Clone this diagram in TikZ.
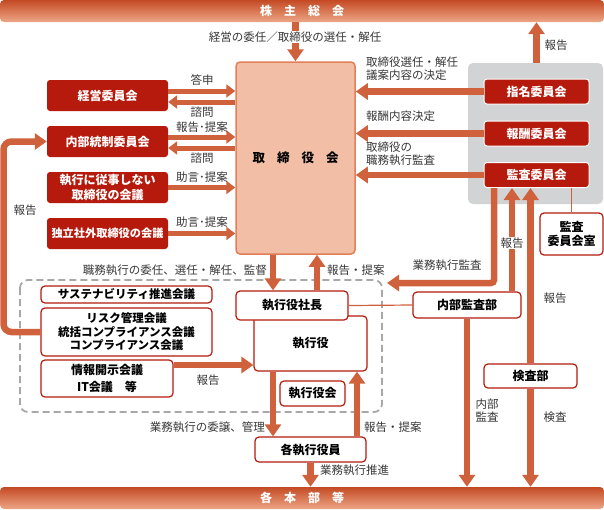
\documentclass[tikz,border=0pt]{standalone}
\usepackage{fontspec}
\setmainfont{Noto Sans CJK JP}
\usetikzlibrary{arrows.meta}
\definecolor{arrowc}{RGB}{207,98,60}
\definecolor{boxred}{RGB}{181,26,12}
\definecolor{boardfill}{RGB}{242,191,166}
\definecolor{boardline}{RGB}{226,126,88}
\definecolor{panelgrey}{RGB}{210,211,213}
\definecolor{dashgrey}{RGB}{168,168,168}
\definecolor{labelc}{RGB}{55,55,55}
\definecolor{bartop}{RGB}{196,74,36}
\definecolor{barbottom}{RGB}{236,166,134}
\tikzset{
  bar/.style={rounded corners=4pt, top color=bartop, bottom color=barbottom, text=white,
    minimum width=604pt, minimum height=22pt, inner sep=0pt, font=\bfseries\fontsize{12}{14}\selectfont},
  board/.style={draw=boardline, fill=boardfill, line width=1.5pt, rounded corners=4pt,
    minimum width=119pt, minimum height=192pt, font=\bfseries\fontsize{12.5}{14}\selectfont},
  redbox/.style={fill=boxred, rounded corners=3pt, text=white, align=center, inner sep=0pt,
    minimum width=121pt, minimum height=31pt, font=\bfseries\fontsize{12}{15}\selectfont},
  comm/.style={redbox, draw=white, line width=1pt, minimum width=105pt, minimum height=25pt},
  whitebox/.style={draw=boxred, fill=white, line width=1.2pt, rounded corners=4pt, align=center,
    inner sep=0pt, font=\bfseries\fontsize{12}{14.5}\selectfont},
  panel/.style={fill=panelgrey, rounded corners=5pt, minimum width=135pt, minimum height=141pt},
  lbl/.style={text=labelc, inner sep=1pt, align=left, font=\fontsize{11.5}{13}\selectfont},
  bigarr/.style={draw=arrowc, line width=6.5pt, -{Triangle[width=16pt,length=12pt]}},
  smallarr/.style={draw=arrowc, line width=5pt, -{Triangle[width=13pt,length=9pt]}},
  thinline/.style={draw=arrowc, line width=1.2pt},
  dashframe/.style={draw=dashgrey, line width=1.8pt, rounded corners=8pt, dash pattern=on 7pt off 4pt}
}
\begin{document}
\begin{tikzpicture}[x=1pt,y=-1pt]
\useasboundingbox (0,0) rectangle (604,509);
\node[bar] (gm) at (302,11) {株\hspace{12pt}主\hspace{12pt}総\hspace{12pt}会};
\node[bar] (div) at (302,498) {各\hspace{12pt}本\hspace{12pt}部\hspace{12pt}等};
\node[board] (board) at (295.5,158) {取\hspace{12pt}締\hspace{12pt}役\hspace{12pt}会};
\node[panel] (panel) at (535.5,133.5) {};
\node[redbox] (mgmt) at (107.5,95.5) {経営委員会};
\node[redbox] (ctrl) at (107.5,141.5) {内部統制委員会};
\node[redbox] (nonexec) at (107.5,187.5) {執行に従事しない\\取締役の会議};
\node[redbox, font=\bfseries\fontsize{11.2}{14}\selectfont] (indep) at (107.5,233.5) {独立社外取締役の会議};
\node[comm] (nom) at (536.5,91.5) {指名委員会};
\node[comm] (rem) at (536.5,133.5) {報酬委員会};
\node[comm] (aud) at (536.5,175) {監査委員会};
\node[whitebox, minimum width=63pt, minimum height=42pt] (room) at (571.5,234) {監査\\委員会室};

\draw[bigarr] (gm.south -| board.north) -- (board.north);
\node[lbl, fill=white] (l0) at (295,37) {経営の委任／取締役の選任・解任};
\draw[bigarr] (panel.north -| nom.north) -- (nom.north |- gm.south);
\node[lbl] (l1) at (556,45) {報告};

\draw[smallarr] ([yshift=4.5pt]mgmt.east) -- ([yshift=4.5pt]mgmt.east -| board.west);
\draw[smallarr] ([yshift=-6.5pt]mgmt.east -| board.west) -- ([yshift=-6.5pt]mgmt.east);
\draw[smallarr] ([yshift=4.5pt]ctrl.east) -- ([yshift=4.5pt]ctrl.east -| board.west);
\draw[smallarr] ([yshift=-6.5pt]ctrl.east -| board.west) -- ([yshift=-6.5pt]ctrl.east);
\draw[smallarr] (nonexec.east) -- (nonexec.east -| board.west);
\draw[smallarr] (indep.east) -- (indep.east -| board.west);
\node[lbl] (l2) at (202,80) {答申};
\node[lbl] (l3) at (202,112) {諮問};
\node[lbl] (l4) at (202,127) {報告･提案};
\node[lbl] (l5) at (202,158) {諮問};
\node[lbl] (l6) at (202,177) {助言･提案};
\node[lbl] (l7) at (202,222) {助言･提案};

\draw[bigarr] (nom.west) -- (nom.west -| board.east);
\draw[bigarr] (rem.west) -- (rem.west -| board.east);
\draw[bigarr] (aud.west) -- (aud.west -| board.east);
\node[lbl, anchor=west] (l8) at (365,68.5) {取締役選任・解任\\議案内容の決定};
\node[lbl, anchor=west] (l9) at (365,116) {報酬内容決定};
\node[lbl, anchor=west] (l10) at (365,153.5) {取締役の\\職務執行監査};
\draw[thinline] (room.north |- aud.south) -- (room.north);

\draw[dashframe] (20,280) rectangle (382,412);
\node[whitebox, minimum width=171pt, minimum height=17pt, font=\bfseries\fontsize{11.5}{14}\selectfont] (sus) at (126.5,294.5) {サステナビリティ推進会議};
\node[whitebox, minimum width=171pt, minimum height=48pt, font=\bfseries\fontsize{11.5}{13.5}\selectfont] (risk) at (126.5,332) {リスク管理会議\\統括コンプライアンス会議\\コンプライアンス会議};
\node[whitebox, minimum width=132pt, minimum height=37pt] (info) at (107,378.5) {情報開示会議\\[2pt]IT会議　等};
\node[whitebox, minimum width=113pt, minimum height=55pt] (exec) at (310.5,343.5) {執行役};
\node[whitebox, minimum width=112pt, minimum height=29pt] (ceo) at (292,305.5) {執行役社長};
\node[whitebox, minimum width=65pt, minimum height=25pt] (council) at (312.5,393.5) {執行役会};
\node[whitebox, minimum width=111pt, minimum height=25pt] (officers) at (310.5,449.5) {各執行役員};
\node[whitebox, minimum width=108pt, minimum height=26pt] (audit) at (467,305) {内部監査部};
\node[whitebox, minimum width=93pt, minimum height=24pt] (insp) at (530.5,376) {検査部};

\draw[bigarr, rounded corners=8pt] (risk.west) -- (risk.west -| 3.5,0) |- (ctrl.west);
\node[lbl] (l11) at (25,210) {報告};

\draw[bigarr] ([xshift=-22.5pt]board.south) -- ([xshift=-22.5pt]board.south |- ceo.north);
\draw[bigarr] ([xshift=21.5pt]board.south |- ceo.north) -- ([xshift=21.5pt]board.south);
\node[lbl, anchor=east] (l12) at (268,270) {職務執行の委任、選任・解任、監督};
\node[lbl, anchor=west] (l13) at (326,270) {報告・提案};

\coordinate (auditend) at (387,283);
\draw[bigarr, rounded corners=3pt] ([xshift=-42.5pt]aud.south) |- (auditend);
\node[lbl] (l14) at (447,265) {業務執行監査};
\draw[bigarr] ([xshift=45pt]audit.north) -- ([xshift=45pt]audit.north |- aud.south);
\node[lbl, fill=white] (l15) at (512,243) {報告};
\draw[bigarr] (insp.north) -- (insp.north |- aud.south);
\node[lbl] (l16) at (555,298) {報告};
\draw[thinline] (ceo.east) -- (audit.west);
\draw[bigarr] (audit.south) -- (audit.south |- div.north);
\node[lbl] (l17) at (487,410) {内部\\監査};
\draw[bigarr] (insp.south) -- (insp.south |- div.north);
\node[lbl] (l18) at (555,417) {検査};

\draw[bigarr] ([yshift=13.5pt]info.east) -- ([yshift=13.5pt]info.east -| exec.west);
\node[lbl] (l19) at (208,380) {報告};
\draw[bigarr] ([xshift=-37.5pt]exec.south) -- ([xshift=-37.5pt]exec.south |- officers.north);
\draw[bigarr] ([xshift=46.5pt]officers.north) -- ([xshift=46.5pt]officers.north |- exec.south);
\node[lbl, anchor=east] (l20) at (266,427) {業務執行の委譲、管理};
\node[lbl, anchor=west] (l21) at (363,427) {報告・提案};
\draw[bigarr] (officers.south) -- (officers.south |- div.north);
\node[lbl, anchor=west] (l22) at (319,470) {業務執行推進};
\end{tikzpicture}
\end{document}
